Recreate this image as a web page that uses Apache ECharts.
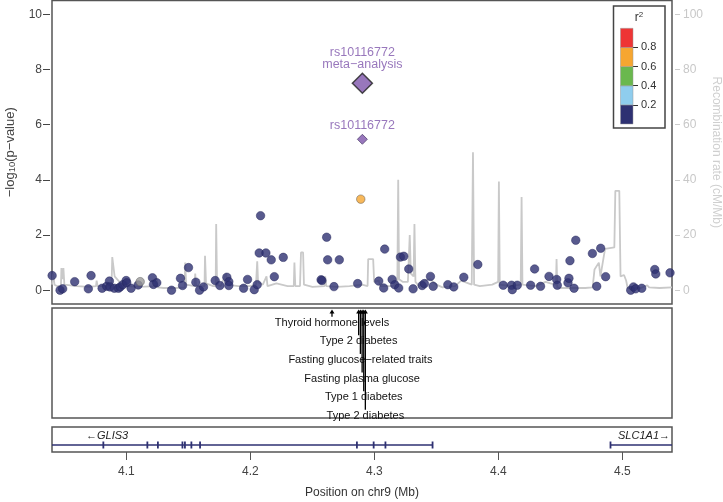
<!DOCTYPE html>
<html>
<head>
<meta charset="utf-8">
<script src="https://cdn.jsdelivr.net/npm/echarts@6/dist/echarts.min.js"></script>
<style>
html, body { margin: 0; padding: 0; background: #fff; }
#chart { width: 723px; height: 502px; }
</style>
</head>
<body>
<div id="chart"></div>
<script>
// ============================================
// 数据
// ============================================
const xMin = 4.04, xMax = 4.54;
const xTicks = [4.1, 4.2, 4.3, 4.4, 4.5];
const pTicks = [0, 2, 4, 6, 8, 10];
const recTicks = [0, 20, 40, 60, 80, 100];

// SNPs: position (Mb), -log10 p, r2 (null = no LD info)
const snpPos = [
    4.0401, 4.0465, 4.0486, 4.0583, 4.0693, 4.0715, 4.0804, 4.0841, 4.0863, 4.0868,
    4.0903, 4.0936, 4.0950, 4.0971, 4.0998, 4.1003, 4.1038, 4.1095, 4.1111, 4.1210,
    4.1218, 4.1245, 4.1364, 4.1436, 4.1453, 4.1501, 4.1560, 4.1590, 4.1622, 4.1716,
    4.1754, 4.1810, 4.1826, 4.1826, 4.1945, 4.1977, 4.2031, 4.2055, 4.2082, 4.2071,
    4.2125, 4.2168, 4.2193, 4.2265, 4.2570, 4.2577, 4.2615, 4.2623, 4.2674, 4.2717,
    4.2865, 4.2890,
    4.3035, 4.3075, 4.3083, 4.3143, 4.3164, 4.3196, 4.3210, 4.3237, 4.3277, 4.3312,
    4.3385, 4.3403, 4.3452, 4.3474, 4.3592, 4.3640, 4.3721, 4.3834, 4.4039, 4.4106,
    4.4112, 4.4152, 4.4260, 4.4292, 4.4340, 4.4408, 4.4470, 4.4475, 4.4561, 4.4569,
    4.4577, 4.4610, 4.4624, 4.4758, 4.4793, 4.4825, 4.4865, 4.5067, 4.5089, 4.5107,
    4.5156, 4.5261, 4.5269, 4.5384
];
const snpLogP = [
    0.53, 0.00, 0.05, 0.31, 0.05, 0.53, 0.07, 0.14, 0.33, 0.12,
    0.07, 0.07, 0.12, 0.20, 0.35, 0.27, 0.07, 0.19, 0.31, 0.45,
    0.21, 0.27, 0.00, 0.43, 0.17, 0.82, 0.29, 0.00, 0.12, 0.35,
    0.17, 0.47, 0.31, 0.17, 0.07, 0.39, 0.02, 0.20, 2.70, 1.35,
    1.35, 1.10, 0.49, 1.19, 0.38, 0.35, 1.92, 1.10, 0.13, 1.10,
    0.24, 3.30,
    0.33, 0.08, 1.49, 0.39, 0.20, 0.08, 1.20, 1.23, 0.77, 0.05,
    0.17, 0.24, 0.50, 0.14, 0.20, 0.12, 0.47, 0.93, 0.18, 0.18,
    0.02, 0.18, 0.18, 0.77, 0.14, 0.50, 0.39, 0.18, 0.27, 0.43,
    1.07, 0.07, 1.81, 1.33, 0.14, 1.52, 0.49, 0.00, 0.12, 0.05,
    0.07, 0.75, 0.59, 0.63
];
const snpR2 = snpPos.map((p, i) => {
    if (i === 18) return null;   // grey point, no LD
    if (i === 51) return 0.65;   // orange point
    return 0.05;
});

// lead SNP
const leadName = 'rs10116772';
const leadPos = 4.2903;
const leadMetaLogP = 7.5;
const leadLogP = 5.47;

// recombination rate (cM/Mb)
const recombPos = [
    4.0400, 4.0406, 4.0410, 4.0416, 4.0420, 4.0440, 4.0472, 4.0476, 4.0486, 4.0492,
    4.0500, 4.0600, 4.0700, 4.0755, 4.0760, 4.0768, 4.0880, 4.0886, 4.0898, 4.0905,
    4.0935, 4.0960, 4.0990, 4.1000, 4.1008, 4.1100, 4.1240, 4.1245, 4.1252, 4.1300,
    4.1400, 4.1470, 4.1474, 4.1482, 4.1550, 4.1555, 4.1562, 4.1630, 4.1634, 4.1642,
    4.1700, 4.1720, 4.1724, 4.1731, 4.1760, 4.1805, 4.1812, 4.1900, 4.2000, 4.2045,
    4.2055, 4.2062, 4.2100, 4.2130, 4.2138, 4.2210, 4.2300, 4.2350, 4.2355, 4.2362,
    4.2400, 4.2408, 4.2425, 4.2432, 4.2500, 4.2598, 4.2603, 4.2612, 4.2700, 4.2800,
    4.2900, 4.2945, 4.2950, 4.2990, 4.2998, 4.3035, 4.3048, 4.3150, 4.3185, 4.3192,
    4.3199, 4.3230, 4.3270, 4.3285, 4.3294, 4.3316, 4.3323, 4.3331, 4.3360, 4.3400,
    4.3450, 4.3500, 4.3550, 4.3650, 4.3700, 4.3785, 4.3795, 4.3804, 4.3850, 4.3950,
    4.3998, 4.4004, 4.4011, 4.4100, 4.4180, 4.4187, 4.4194, 4.4300, 4.4380, 4.4420,
    4.4464, 4.4469, 4.4475, 4.4500, 4.4700, 4.4760, 4.4775, 4.4810, 4.4823, 4.4860,
    4.4935, 4.4943, 4.4975, 4.4985, 4.5013, 4.5030, 4.5042, 4.5150, 4.5200, 4.5215,
    4.5300, 4.5400
];
const recombRate = [
    2.0, 2.5, 6.0, 5.5, 2.0, 1.5, 1.5, 8.0, 4.0, 8.0,
    2.0, 1.5, 1.2, 1.5, 3.5, 1.5, 1.5, 12.0, 12.0, 5.0,
    3.5, 2.0, 2.5, 4.0, 1.5, 1.2, 1.5, 4.5, 1.0, 0.8,
    0.8, 1.0, 10.0, 2.0, 1.5, 6.0, 1.5, 1.5, 12.5, 2.5,
    1.5, 1.5, 24.0, 2.0, 1.5, 6.0, 2.0, 1.5, 1.5, 2.0,
    10.5, 3.0, 2.0, 5.0, 1.5, 2.5, 1.5, 1.5, 10.0, 1.5,
    1.5, 13.7, 13.7, 2.0, 1.2, 1.5, 5.0, 1.5, 1.2, 1.5,
    2.0, 1.5, 11.3, 11.3, 3.0, 3.5, 1.5, 1.5, 3.0, 40.0,
    4.0, 3.0, 3.0, 20.0, 6.0, 5.0, 24.0, 3.0, 1.5, 3.5,
    4.0, 2.0, 1.0, 1.5, 3.5, 2.0, 50.0, 2.0, 1.5, 2.0,
    3.0, 39.4, 2.0, 1.5, 2.0, 33.8, 2.0, 1.5, 3.0, 2.5,
    2.0, 11.3, 1.0, 0.8, 0.8, 1.0, 7.5, 10.0, 5.0, 15.0,
    15.5, 36.0, 36.0, 5.0, 5.5, 3.5, 0.8, 0.8, 1.8, 1.0,
    0.8, 1.0
];

// GWAS catalog
const catPos = [4.2658, 4.2873, 4.2887, 4.2901, 4.2914, 4.2927];
const catLabels = [
    'Thyroid hormone levels',
    'Type 2 diabetes',
    'Fasting glucose−related traits',
    'Fasting plasma glucose',
    'Type 1 diabetes',
    'Type 2 diabetes'
];

// genes
const geneNames = ['GLIS3', 'SLC1A1'];
const geneStrand = ['-', '+'];
const geneStart = [4.00, 4.4900];
const geneEnd = [4.3470, 4.60];
const exonStart = [4.0810, 4.1165, 4.1250, 4.1448, 4.1468, 4.1520, 4.1590, 4.2855, 4.2990, 4.3085, 4.3465, 4.4900];
const exonEnd   = [4.0812, 4.1172, 4.1253, 4.1451, 4.1471, 4.1522, 4.1592, 4.2860, 4.2995, 4.3092, 4.3475, 4.4902];

// r2 legend
const ldBreaks = [0, 0.2, 0.4, 0.6, 0.8, 1.0];
const ldColors = ['#2e3172', '#8fcdee', '#6ab84e', '#f6a631', '#ee3535'];
const ldTicks = [0.2, 0.4, 0.6, 0.8];

// ============================================
// 工具函数
// ============================================
function ldColor(r2) {
    if (r2 === null || r2 === undefined) return '#9a9a9a';
    for (let i = 0; i < ldColors.length; i++) {
        if (r2 < ldBreaks[i + 1]) return ldColors[i];
    }
    return ldColors[ldColors.length - 1];
}

const FONT = 'Liberation Sans, Arial, sans-serif';
const PURPLE = '#7e55ab';

// ============================================
// 图表
// ============================================
const chart = echarts.init(document.getElementById('chart'), null, { renderer: 'canvas' });

const panelGrid = {
    left: 52, right: 51, show: true, borderColor: '#555', borderWidth: 1.5,
    backgroundColor: 'transparent', containLabel: false, outerBoundsMode: 'none'
};

const option = {
    animation: false,
    textStyle: { fontFamily: FONT },
    grid: [
        Object.assign({ top: 0.5, height: 303.5 }, panelGrid),
        Object.assign({ top: 308, height: 110 }, panelGrid),
        Object.assign({ top: 427, height: 25 }, panelGrid),
        { left: 620.5, width: 12.5, top: 28.3, height: 95.7, show: false, outerBoundsMode: 'none' }
    ],
    xAxis: [
        { gridIndex: 0, type: 'value', min: xMin, max: xMax, show: false },
        { gridIndex: 1, type: 'value', min: xMin, max: xMax, show: false },
        {
            gridIndex: 2, type: 'value', min: xMin, max: xMax, position: 'bottom',
            axisLine: { show: false, onZero: false },
            splitLine: { show: false },
            axisTick: { show: true, length: 8, customValues: xTicks, lineStyle: { color: '#555', width: 1 } },
            axisLabel: { customValues: xTicks, color: '#444', fontSize: 12, margin: 14, formatter: v => v.toFixed(1) },
            name: 'Position on chr9 (Mb)',
            nameLocation: 'middle',
            nameGap: 35,
            nameMoveOverlap: false,
            nameTextStyle: { color: '#333', fontSize: 12 }
        },
        { gridIndex: 3, type: 'value', min: 0, max: 1, show: false }
    ],
    yAxis: [
        {
            gridIndex: 0, type: 'value', min: -0.5, max: 10.5, position: 'left', offset: 2,
            axisLine: { show: false, onZero: false },
            splitLine: { show: false },
            axisTick: { show: true, length: 7, customValues: pTicks, lineStyle: { color: '#444' } },
            axisLabel: { customValues: pTicks, color: '#444', fontSize: 12, margin: 8 },
            name: '−log{sub|10}(p−value)',
            nameLocation: 'middle',
            nameRotate: 90,
            nameGap: 33,
            nameMoveOverlap: false,
            nameTextStyle: { color: '#444', fontSize: 13, rich: { sub: { fontSize: 9.5, verticalAlign: 'bottom', color: '#444', padding: [4, 0, 0, 0] } } }
        },
        {
            gridIndex: 0, type: 'value', min: -5, max: 105, position: 'right', offset: 3,
            axisLine: { show: false, onZero: false },
            splitLine: { show: false },
            axisTick: { show: true, length: 5, customValues: recTicks, lineStyle: { color: '#cccccc' } },
            axisLabel: { customValues: recTicks, color: '#c8c8c8', fontSize: 12, margin: 8 },
            name: 'Recombination rate (cM/Mb)',
            nameLocation: 'middle',
            nameRotate: -90,
            nameGap: 35,
            nameMoveOverlap: false,
            nameTextStyle: { color: '#cfcfcf', fontSize: 12 }
        },
        { gridIndex: 1, type: 'value', min: -0.79, max: 5.12, inverse: true, show: false },
        { gridIndex: 2, type: 'value', min: 0, max: 1, inverse: true, show: false },
        {
            gridIndex: 3, type: 'value', min: 0, max: 1, position: 'right',
            axisLine: { show: false, onZero: false },
            splitLine: { show: false },
            axisTick: { show: true, length: 5, customValues: ldTicks, lineStyle: { color: '#333' } },
            axisLabel: { customValues: ldTicks, color: '#333', fontSize: 11, margin: 8, formatter: v => v.toFixed(1) }
        }
    ],
    graphic: [
        {
            type: 'rect', z: 0,
            shape: { x: 613.5, y: 6, width: 51.5, height: 122 },
            style: { fill: '#fff', stroke: '#444', lineWidth: 1.5 }
        },
        {
            type: 'text', z: 5, x: 639, y: 18,
            style: {
                text: 'r{sup|2}', font: '12px ' + FONT, fill: '#333',
                align: 'center', verticalAlign: 'middle',
                rich: { sup: { fontSize: 8, verticalAlign: 'top', fill: '#333', padding: [0, 0, 6, 0] } }
            }
        }
    ],
    series: [
        // 重组率
        {
            type: 'line', xAxisIndex: 0, yAxisIndex: 1, z: 1, silent: true,
            symbol: 'none',
            lineStyle: { color: '#c9c9c9', width: 1.8 },
            data: recombPos.map((p, i) => [p, recombRate[i]])
        },
        // SNP 点
        {
            type: 'scatter', xAxisIndex: 0, yAxisIndex: 0, z: 3,
            symbolSize: 8.5,
            data: snpPos.map((p, i) => ({
                value: [p, snpLogP[i]],
                itemStyle: { color: ldColor(snpR2[i]), borderColor: snpR2[i] === 0.05 ? '#24265a' : '#555', borderWidth: 0.6 }
            }))
        },
        // lead SNP
        {
            type: 'scatter', xAxisIndex: 0, yAxisIndex: 0, z: 4,
            symbol: 'diamond',
            data: [
                {
                    value: [leadPos, leadMetaLogP], symbolSize: [20, 20],
                    itemStyle: { color: PURPLE, borderColor: '#222', borderWidth: 1.5 },
                    label: { show: true, position: 'top', distance: 2, formatter: leadName + '\nmeta−analysis', color: PURPLE, fontSize: 12.5, lineHeight: 12 }
                },
                {
                    value: [leadPos, leadLogP], symbolSize: [10, 10],
                    itemStyle: { color: PURPLE, borderColor: '#3a2a5a', borderWidth: 0.8 },
                    label: { show: true, position: 'top', distance: 2, formatter: leadName, color: PURPLE, fontSize: 12.5 }
                }
            ]
        },
        // GWAS catalog
        {
            type: 'custom', xAxisIndex: 1, yAxisIndex: 2, z: 3,
            data: catPos.map((p, i) => [p, i]),
            renderItem: function (params, api) {
                const pt = api.coord([api.value(0), api.value(1)]);
                const top = params.coordSys.y;
                const x = pt[0];
                return {
                    type: 'group',
                    children: [
                        {
                            type: 'text', x: x, y: pt[1],
                            style: { text: catLabels[params.dataIndex], align: 'center', verticalAlign: 'middle', fill: '#111', font: '11px ' + FONT }
                        },
                        {
                            type: 'line', z2: 5,
                            shape: { x1: x, y1: top + 4, x2: x, y2: pt[1] - 6 },
                            style: { stroke: '#000', lineWidth: 1.3 }
                        },
                        {
                            type: 'polygon', z2: 5,
                            shape: { points: [[x, top + 1.5], [x - 2.5, top + 5.5], [x + 2.5, top + 5.5]] },
                            style: { fill: '#000' }
                        }
                    ]
                };
            }
        },
        // 基因
        {
            type: 'custom', xAxisIndex: 2, yAxisIndex: 3, z: 3,
            data: geneNames.map((g, i) => [geneStart[i], geneEnd[i]]),
            renderItem: function (params, api) {
                const cs = params.coordSys;
                const i = params.dataIndex;
                const a = api.coord([api.value(0), 0.72]);
                const b = api.coord([api.value(1), 0.72]);
                const x1 = Math.max(a[0], cs.x), x2 = Math.min(b[0], cs.x + cs.width);
                const ly = api.coord([api.value(0), 0.36])[1];
                const minus = geneStrand[i] === '-';
                const label = minus ? '←' + geneNames[i] : geneNames[i] + '→';
                return {
                    type: 'group',
                    children: [
                        { type: 'line', shape: { x1: x1, y1: a[1], x2: x2, y2: a[1] }, style: { stroke: '#2e3172', lineWidth: 1.3 } },
                        {
                            type: 'text',
                            x: minus ? cs.x + 34 : cs.x + cs.width - 2,
                            y: ly,
                            style: { text: label, align: minus ? 'left' : 'right', verticalAlign: 'middle', fill: '#222', font: 'italic 11px ' + FONT }
                        }
                    ]
                };
            }
        },
        // 外显子
        {
            type: 'custom', xAxisIndex: 2, yAxisIndex: 3, z: 4,
            data: exonStart.map((s, i) => [s, exonEnd[i]]),
            renderItem: function (params, api) {
                const a = api.coord([api.value(0), 0.58]);
                const b = api.coord([api.value(1), 0.86]);
                const w = Math.max(b[0] - a[0], 1.8);
                return { type: 'rect', shape: { x: a[0] - 0.4, y: a[1], width: w, height: b[1] - a[1] }, style: { fill: '#2e3172' } };
            }
        },
        // r2 图例
        {
            type: 'custom', xAxisIndex: 3, yAxisIndex: 4, z: 3,
            data: ldColors.map((c, i) => [ldBreaks[i], ldBreaks[i + 1]]),
            renderItem: function (params, api) {
                const a = api.coord([0, api.value(1)]);
                const b = api.coord([1, api.value(0)]);
                return { type: 'rect', shape: { x: a[0], y: a[1], width: b[0] - a[0], height: b[1] - a[1] }, style: { fill: ldColors[params.dataIndex], stroke: '#999', lineWidth: 0.5 } };
            }
        }
    ]
};

chart.setOption(option);
</script>
</body>
</html>
